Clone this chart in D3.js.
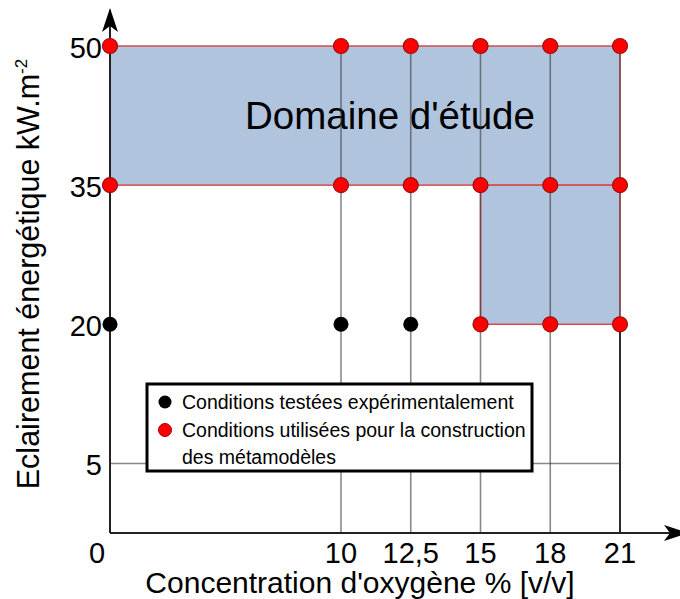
<!DOCTYPE html>
<html>
<head>
<meta charset="utf-8">
<script src="https://cdn.jsdelivr.net/npm/d3@7"></script>
<style>
  html, body { margin: 0; padding: 0; background: #fff; }
  svg { display: block; }
  text { font-family: "Liberation Sans", Arial, sans-serif; fill: #000; }
</style>
</head>
<body>
<svg id="chart" width="680" height="599"></svg>
<script>
// ---- Data ----
const xTicks = [0, 10, 12.5, 15, 18, 21];
const xTickLabels = ["0", "10", "12,5", "15", "18", "21"];
const yTicks = [5, 20, 35, 50];
const yTickLabels = ["5", "20", "35", "50"];

// experimentally tested conditions (black)
const expO2 = [0, 10, 12.5];
const expE = [20, 20, 20];

// conditions used for metamodel construction (red)
const metaO2 = [0, 10, 12.5, 15, 18, 21, 0, 10, 12.5, 15, 18, 21, 15, 18, 21];
const metaE  = [50, 50, 50, 50, 50, 50, 35, 35, 35, 35, 35, 35, 20, 20, 20];

// study domain (two rectangles)
const domainO2From = [0, 15];
const domainO2To   = [21, 21];
const domainEFrom  = [35, 20];
const domainETo    = [50, 35];

const legendLabels = ["Conditions testées expérimentalement",
                      ["Conditions utilisées pour la construction", "des métamodèles"]];

// ---- Layout ----
const svg = d3.select("#chart");
const left = 110, axisY = 533, topY = 46;
const firstGap = 231, step = 69.75;

// schematic x scale: equal spacing between ticks after the first gap
const x = d3.scaleLinear()
  .domain(xTicks)
  .range(xTicks.map((d, i) => i === 0 ? left : left + firstGap + (i - 1) * step));
const y = d3.scaleLinear().domain([-2.5, 50]).range([axisY, topY]);

// domain rectangles
svg.append("g").selectAll("rect")
  .data(domainO2From.map((d, i) => ({x0: d, x1: domainO2To[i], y0: domainEFrom[i], y1: domainETo[i]})))
  .join("rect")
  .attr("x", d => x(d.x0))
  .attr("y", d => y(d.y1))
  .attr("width", d => x(d.x1) - x(d.x0))
  .attr("height", d => y(d.y0) - y(d.y1))
  .attr("fill", "#b0c4de")
  .attr("stroke", "#d84a4a")
  .attr("stroke-width", 1.5);

// Domaine d'étude label
svg.append("text")
  .attr("x", 390).attr("y", 129)
  .attr("text-anchor", "middle")
  .style("font-size", "38.5px")
  .text("Domaine d'étude");

// vertical grid lines
svg.append("g").selectAll("line")
  .data(xTicks.slice(1))
  .join("line")
  .attr("x1", d => x(d)).attr("x2", d => x(d))
  .attr("y1", axisY).attr("y2", y(50))
  .attr("stroke", "#3a3a3a")
  .attr("stroke-opacity", 0.6)
  .attr("stroke-width", 1.6);

// darker bottom segment of the 21 line (edge of the domain)
svg.append("line")
  .attr("x1", x(21)).attr("x2", x(21))
  .attr("y1", axisY).attr("y2", y(20))
  .attr("stroke", "#111")
  .attr("stroke-width", 1.6);

// horizontal grid line at 5
svg.append("line")
  .attr("x1", x(0)).attr("x2", x(21))
  .attr("y1", y(5)).attr("y2", y(5))
  .attr("stroke", "#3a3a3a")
  .attr("stroke-opacity", 0.6)
  .attr("stroke-width", 1.4);

// axes with arrows
const defs = svg.append("defs");
defs.append("marker")
  .attr("id", "arrow")
  .attr("viewBox", "0 0 24 16")
  .attr("refX", 22).attr("refY", 8)
  .attr("markerWidth", 24).attr("markerHeight", 16)
  .attr("markerUnits", "userSpaceOnUse")
  .attr("orient", "auto")
  .append("path")
  .attr("d", "M0,0 L24,8 L0,16 L6,8 Z")
  .attr("fill", "#000");

svg.append("line")
  .attr("x1", x(0)).attr("y1", axisY)
  .attr("x2", x(0)).attr("y2", 10)
  .attr("stroke", "#222").attr("stroke-width", 2)
  .attr("marker-end", "url(#arrow)");
svg.append("line")
  .attr("x1", x(0)).attr("y1", axisY)
  .attr("x2", 686).attr("y2", axisY)
  .attr("stroke", "#222").attr("stroke-width", 2)
  .attr("marker-end", "url(#arrow)");

// x tick labels
svg.append("g").selectAll("text")
  .data(xTicks)
  .join("text")
  .attr("x", (d, i) => i === 0 ? x(d) - 13 : x(d))
  .attr("y", 563)
  .attr("text-anchor", "middle")
  .style("font-size", "29px")
  .text((d, i) => xTickLabels[i]);

// y tick labels
svg.append("g").selectAll("text")
  .data(yTicks)
  .join("text")
  .attr("x", 102)
  .attr("y", d => y(d) + 12)
  .attr("text-anchor", "end")
  .style("font-size", "29px")
  .text((d, i) => yTickLabels[i]);

// axis titles
svg.append("text")
  .attr("x", 360).attr("y", 593)
  .attr("text-anchor", "middle")
  .style("font-size", "30px")
  .text("Concentration d'oxygène % [v/v]");

const yTitle = svg.append("text")
  .attr("transform", "translate(39,274) rotate(-90)")
  .attr("text-anchor", "middle")
  .style("font-size", "30.5px");
yTitle.append("tspan").text("Eclairement énergétique kW.m");
yTitle.append("tspan").attr("dy", -12).style("font-size", "17px").text("-2");

// legend
const lg = svg.append("g");
lg.append("rect")
  .attr("x", 147).attr("y", 384)
  .attr("width", 385).attr("height", 87)
  .attr("fill", "#fff")
  .attr("stroke", "#000").attr("stroke-width", 3);
lg.append("circle").attr("cx", 165).attr("cy", 402).attr("r", 6.5).attr("fill", "#000");
lg.append("circle").attr("cx", 165).attr("cy", 430).attr("r", 6.5)
  .attr("fill", "#ff0000").attr("stroke", "#a00000").attr("stroke-width", 1);
lg.append("text").attr("x", 182).attr("y", 409).style("font-size", "19.5px").text(legendLabels[0]);
lg.append("text").attr("x", 182).attr("y", 437).style("font-size", "19.5px").text(legendLabels[1][0]);
lg.append("text").attr("x", 182).attr("y", 464).style("font-size", "19.5px").text(legendLabels[1][1]);

// points
svg.append("g").selectAll("circle")
  .data(expO2.map((d, i) => [d, expE[i]]))
  .join("circle")
  .attr("cx", d => x(d[0])).attr("cy", d => y(d[1]))
  .attr("r", 7.5)
  .attr("fill", "#000");

svg.append("g").selectAll("circle")
  .data(metaO2.map((d, i) => [d, metaE[i]]))
  .join("circle")
  .attr("cx", d => x(d[0])).attr("cy", d => y(d[1]))
  .attr("r", 7.5)
  .attr("fill", "#ff0000")
  .attr("stroke", "#9a1010")
  .attr("stroke-width", 1.2);
</script>
</body>
</html>
